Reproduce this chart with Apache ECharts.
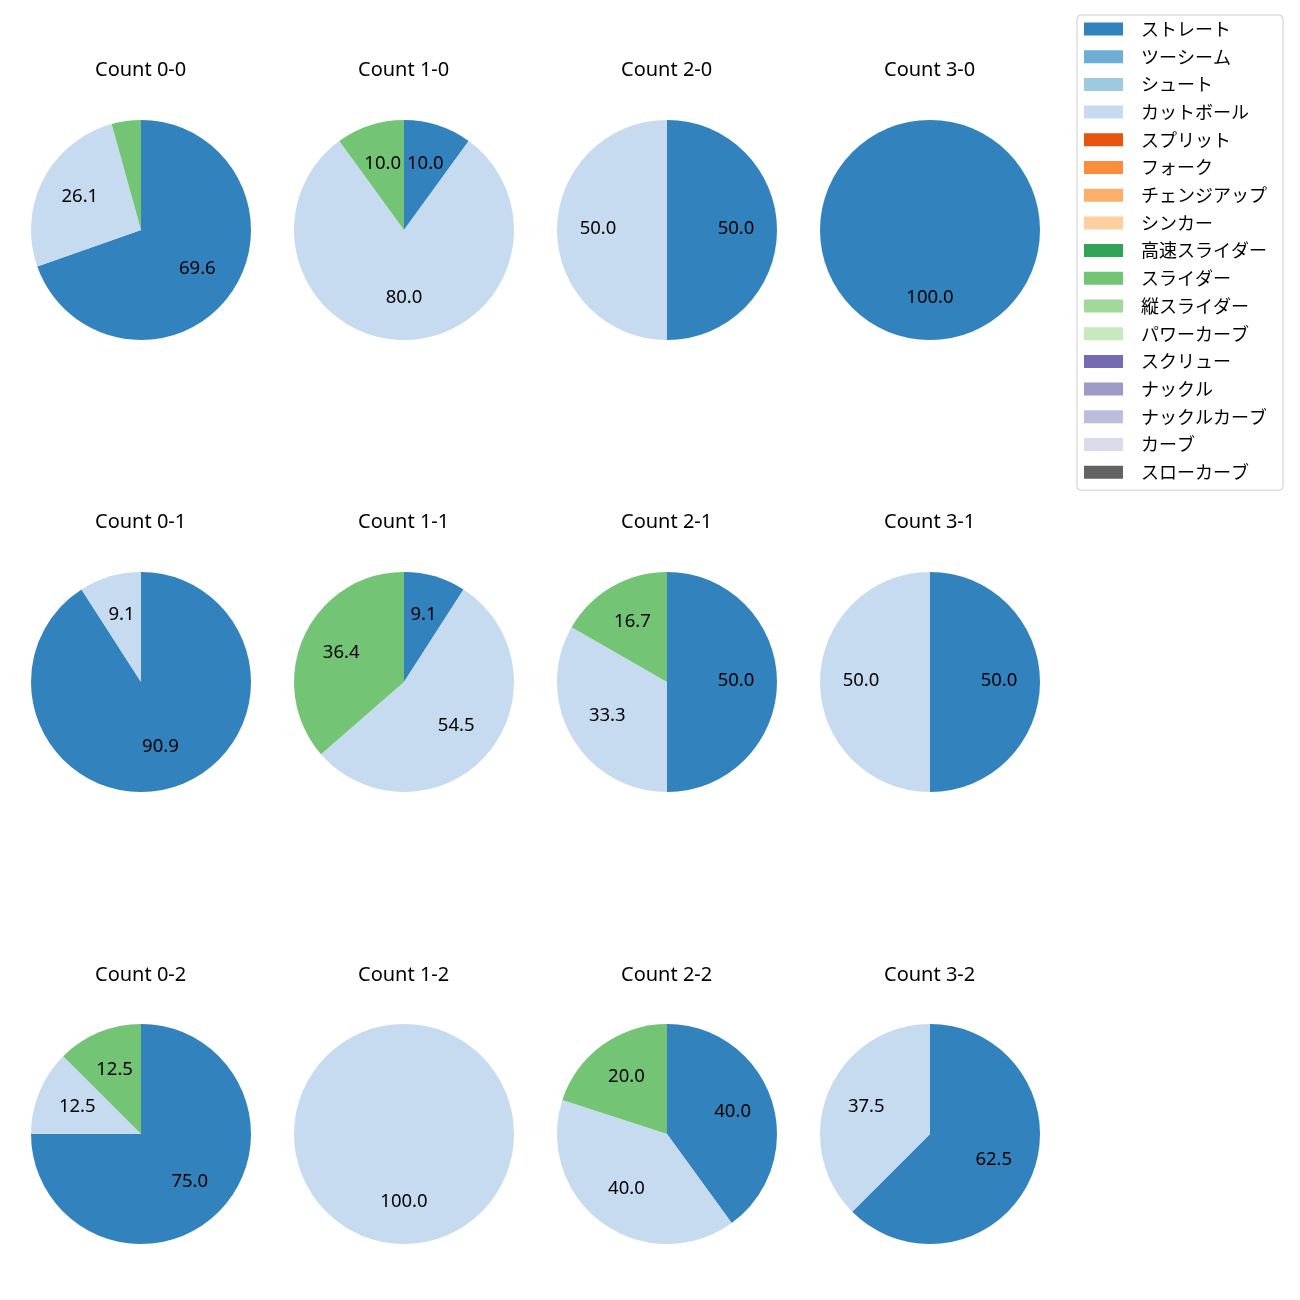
<!DOCTYPE html>
<html>
<head>
<meta charset="utf-8">
<script src="https://cdn.jsdelivr.net/npm/echarts@6/dist/echarts.min.js"></script>
<style>
html, body { margin: 0; padding: 0; background: #ffffff; }
#chart { width: 1300px; height: 1300px; }
</style>
</head>
<body>
<div id="chart"></div>
<script>
// ---- data ----
const pitchTypes = ['ストレート','ツーシーム','シュート','カットボール','スプリット','フォーク','チェンジアップ','シンカー','高速スライダー','スライダー','縦スライダー','パワーカーブ','スクリュー','ナックル','ナックルカーブ','カーブ','スローカーブ'];
const pitchColors = ['#3182bd','#6baed6','#9ecae1','#c6dbef','#e6550d','#fd8d3c','#fdae6b','#fdd0a2','#31a354','#74c476','#a1d99b','#c7e9c0','#756bb1','#9e9ac8','#bcbddc','#dadaeb','#636363'];
const countTitles = ['Count 0-0','Count 1-0','Count 2-0','Count 3-0','Count 0-1','Count 1-1','Count 2-1','Count 3-1','Count 0-2','Count 1-2','Count 2-2','Count 3-2'];
const straightPct = [69.6, 10.0, 50.0, 100.0, 90.9, 9.1, 50.0, 50.0, 75.0, 0, 40.0, 62.5];
const cutterPct   = [26.1, 80.0, 50.0, 0, 9.1, 54.5, 33.3, 50.0, 12.5, 100.0, 40.0, 37.5];
const sliderPct   = [4.3, 10.0, 0, 0, 0, 36.4, 16.7, 0, 12.5, 0, 20.0, 0];

// ---- layout ----
const colX = [141, 404, 667, 930];
const rowY = [230, 682, 1134];
const titleY = [69, 521, 974];
const R = 110;
const LATIN = '"Noto Sans", "DejaVu Sans", sans-serif';
const CJK = '"Noto Sans CJK JP", "Noto Sans", sans-serif';
const TITLE_SIZE = 20;

const measureCtx = document.createElement('canvas').getContext('2d');
function textWidth(s, size, family) {
  measureCtx.font = size + 'px ' + family;
  return measureCtx.measureText(s).width;
}

function valuesFor(i) {
  return pitchTypes.map(function (name) {
    if (name === 'ストレート') return straightPct[i];
    if (name === 'カットボール') return cutterPct[i];
    if (name === 'スライダー') return sliderPct[i];
    return 0;
  });
}

const titles = [];
const pieSeries = [];
const labelSeries = [];
countTitles.forEach(function (t, i) {
  const cx = colX[i % 4], cy = rowY[Math.floor(i / 4)], ty = titleY[Math.floor(i / 4)];
  const w = textWidth(t, TITLE_SIZE, LATIN);
  titles.push({
    text: t, left: Math.round(cx - w / 2), top: ty - 11, textAlign: 'left',
    textStyle: { fontFamily: LATIN, fontSize: TITLE_SIZE, fontWeight: 'normal', color: '#000', lineHeight: 24 },
    padding: 0
  });
  const vals = valuesFor(i);
  const total = vals.reduce(function (a, b) { return a + b; }, 0);
  const data = pitchTypes.map(function (name, k) {
    return { name: name, value: vals[k], itemStyle: { color: pitchColors[k] } };
  });
  pieSeries.push({
    type: 'pie', center: [cx, cy], radius: [0, R], startAngle: 90, clockwise: true,
    avoidLabelOverlap: false, label: { show: false }, labelLine: { show: false },
    itemStyle: { borderWidth: 0 }, emphasis: { disabled: true }, silent: true,
    data: data
  });
  labelSeries.push({
    type: 'pie', center: [cx, cy], radius: [R * 0.2, R], startAngle: 90, clockwise: true,
    avoidLabelOverlap: false, silent: true, emphasis: { disabled: true },
    itemStyle: { color: 'rgba(0,0,0,0)', borderWidth: 0 },
    labelLine: { show: false },
    label: {
      show: true, position: 'inside', color: '#000', fontFamily: LATIN, fontSize: 18.5,
      textBorderWidth: 0, offset: [0, -1],
      formatter: function (p) {
        const pct = p.value / total * 100;
        return pct >= 5 ? pct.toFixed(1) : '';
      }
    },
    data: pitchTypes.map(function (name, k) { return { name: name, value: vals[k] }; })
  });
});

const chart = echarts.init(document.getElementById('chart'), null, { renderer: 'canvas' });
chart.setOption({
  animation: false,
  backgroundColor: '#ffffff',
  title: titles,
  legend: {
    orient: 'vertical', left: 1077, top: 15,
    padding: [5, 16, 9, 7],
    backgroundColor: '#ffffff', borderColor: '#cccccc', borderWidth: 1, borderRadius: 4,
    itemWidth: 39, itemHeight: 13, itemGap: 9.7, icon: 'rect',
    selectedMode: false,
    data: pitchTypes,
    textStyle: { fontFamily: CJK, fontSize: 18, color: '#000', lineHeight: 18, padding: [0, 0, 0, 13] }
  },
  series: pieSeries.concat(labelSeries)
});
</script>
</body>
</html>
